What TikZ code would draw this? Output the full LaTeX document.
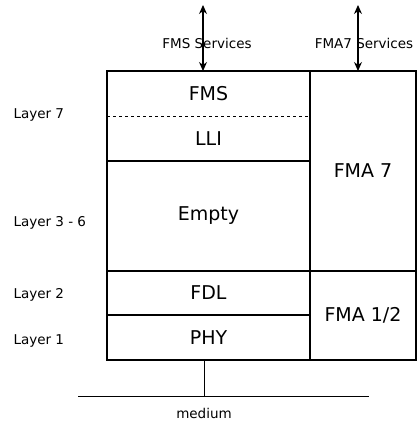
\documentclass[tikz,border=0pt]{standalone}
\usepackage{fontspec}
\setmainfont{DejaVu Sans}
\usepackage{tikz}
\usetikzlibrary{arrows.meta,positioning}

\begin{document}
\begin{tikzpicture}[
    x=1pt, y=1pt,
    node distance=0pt,
    layer/.style={
        draw,
        line width=1.4pt,
        outer sep=0pt,
        inner sep=0pt,
        align=center,
        font=\fontsize{19}{22}\selectfont
    },
    side/.style={
        anchor=west,
        font=\fontsize{13.5}{16}\selectfont
    },
    serv/.style={
        font=\fontsize{13.5}{16}\selectfont
    },
    >={Stealth[length=9pt,width=8pt]}
]
\useasboundingbox (0,0) rectangle (418,-421);

% protocol stack, left column
\node[layer, anchor=north west, minimum width=203pt, minimum height=90pt] (l7) at (107,-71) {};
\node[font=\fontsize{19}{22}\selectfont] (fms) at ([yshift=-22.5pt]l7.north) {FMS};
\node[font=\fontsize{19}{22}\selectfont] (lli) at ([yshift=22.5pt]l7.south) {LLI};
\draw[dashed, line width=0.8pt] (l7.west) -- (l7.east);

\node[layer, below=of l7, minimum width=203pt, minimum height=110pt] (empty) {Empty};
\node[layer, below=of empty, minimum width=203pt, minimum height=44pt] (fdl) {FDL};
\node[layer, below=of fdl, minimum width=203pt, minimum height=45pt] (phy) {PHY};

% management, right column
\node[layer, anchor=north west, minimum width=106pt, minimum height=200pt] (fma7) at (l7.north east) {FMA 7};
\node[layer, below=of fma7, minimum width=106pt, minimum height=89pt] (fma12) {FMA 1/2};

% services
\coordinate (fmsTop) at (203,-5);
\coordinate (fmaTop) at (358,-5);
\draw[<->, line width=1.2pt] (fmsTop) -- (fmsTop |- l7.north);
\draw[<->, line width=1.2pt] (fmaTop) -- (fmaTop |- fma7.north);
\node[serv] (fmsServ) at (207,-43) {FMS Services};
\node[serv] (fmaServ) at (364,-43) {FMA7 Services};

% medium
\coordinate (tap) at (204,-396);
\coordinate (medL) at (78,-396);
\coordinate (medR) at (369,-396);
\draw[line width=0.8pt] (tap |- phy.south) -- (tap);
\draw[line width=0.8pt] (medL) -- (medR);
\node[serv, below=9pt of tap] (medium) {medium};

% layer labels
\node[side] (lay7) at (10,-115) {Layer 7};
\node[side] (lay36) at (10,-223) {Layer 3 - 6};
\node[side] (lay2) at (10,-295) {Layer 2};
\node[side] (lay1) at (10,-341) {Layer 1};

\end{tikzpicture}
\end{document}
